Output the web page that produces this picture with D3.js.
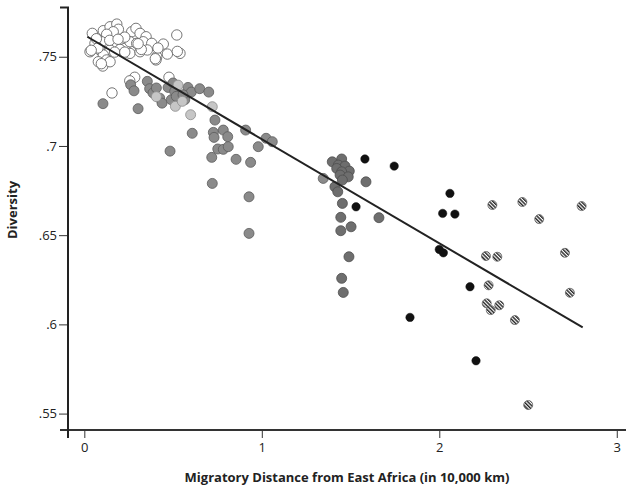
<!DOCTYPE html>
<html lang="en">
<head>
    <meta charset="UTF-8">
    <title>Diversity vs Migratory Distance</title>
    <style>
        body {
            margin: 0;
            background: #fff;
        }
        svg text {
            font-family: 'Open Sans', 'Noto Sans', sans-serif;
            fill: #222;
        }
        .tick text {
            font-size: 13px;
        }
        .axis-title {
            font-size: 13px;
            font-weight: bold;
        }
    </style>
</head>
<body>
    <svg id="chart" width="626" height="487"></svg>

    <script src="https://d3js.org/d3.v7.min.js"></script>
    <script>
        // ticks
        const xTicks = [0, 1, 2, 3];
        const yTicks = [0.55, 0.6, 0.65, 0.7, 0.75];
        const yTickLabels = ['.55', '.6', '.65', '.7', '.75'];

        // populations, [distance, diversity]
        const africa = [
            [0.045, 0.7631], [0.107, 0.7646], [0.145, 0.7668], [0.183, 0.7683], [0.192, 0.7654],
            [0.163, 0.7640], [0.126, 0.7626], [0.070, 0.7598], [0.098, 0.7584], [0.060, 0.7575],
            [0.163, 0.7575], [0.032, 0.7528], [0.088, 0.7538], [0.145, 0.7538], [0.107, 0.7510],
            [0.079, 0.7472], [0.126, 0.7482], [0.104, 0.7448], [0.145, 0.7472], [0.211, 0.7584],
            [0.229, 0.7547], [0.201, 0.7541], [0.267, 0.7640], [0.291, 0.7659], [0.314, 0.7631],
            [0.348, 0.7612], [0.257, 0.7584], [0.295, 0.7575], [0.332, 0.7584], [0.380, 0.7575],
            [0.257, 0.7519], [0.314, 0.7528], [0.355, 0.7538], [0.408, 0.7500], [0.404, 0.7482],
            [0.445, 0.7571], [0.468, 0.7515], [0.521, 0.7622], [0.539, 0.7519], [0.068, 0.7601],
            [0.143, 0.7592], [0.228, 0.7610], [0.190, 0.7598], [0.077, 0.7549], [0.039, 0.7536],
            [0.171, 0.7526], [0.228, 0.7526], [0.096, 0.7461], [0.415, 0.7549], [0.400, 0.7489],
            [0.524, 0.7530], [0.321, 0.7541], [0.303, 0.7573],
            [0.284, 0.7385], [0.256, 0.7365], [0.156, 0.7297], [0.477, 0.7385]
        ];

        const middleEastEurope = [
            [0.105, 0.7237], [0.303, 0.7209], [0.261, 0.7343], [0.280, 0.7309], [0.355, 0.7362],
            [0.368, 0.7321], [0.387, 0.7297], [0.406, 0.7325], [0.425, 0.7268], [0.438, 0.7240],
            [0.472, 0.7328], [0.500, 0.7353], [0.509, 0.7306], [0.490, 0.7259], [0.537, 0.7268],
            [0.518, 0.7278], [0.584, 0.7328], [0.603, 0.7302], [0.650, 0.7321], [0.701, 0.7302],
            [0.736, 0.7145], [0.608, 0.7071], [0.727, 0.7076], [0.731, 0.7048], [0.783, 0.7089],
            [0.808, 0.7052], [0.752, 0.6983], [0.783, 0.6981], [0.811, 0.6996], [0.718, 0.6936],
            [0.855, 0.6925], [0.937, 0.6908], [0.909, 0.7089], [0.980, 0.6996], [1.024, 0.7043],
            [1.059, 0.7024], [0.483, 0.6971], [0.721, 0.6790], [0.928, 0.6715], [0.928, 0.6510],
            [0.566, 0.7259], [0.556, 0.7287], [1.346, 0.6818]
        ];

        const europeLight = [
            [0.406, 0.7276], [0.513, 0.7222], [0.552, 0.7250], [0.599, 0.7175], [0.721, 0.7220],
            [0.528, 0.7341]
        ];

        const asia = [
            [1.397, 0.6911], [1.450, 0.6927], [1.431, 0.6893], [1.469, 0.6887], [1.422, 0.6874],
            [1.493, 0.6859], [1.450, 0.6855], [1.441, 0.6837], [1.487, 0.6827], [1.454, 0.6809],
            [1.412, 0.6771], [1.428, 0.6743], [1.454, 0.6678], [1.445, 0.6600], [1.445, 0.6525],
            [1.503, 0.6547], [1.660, 0.6598], [1.491, 0.6379], [1.450, 0.6258], [1.459, 0.6179],
            [1.587, 0.6799]
        ];

        const oceania = [
            [1.581, 0.6927], [1.746, 0.6887], [1.531, 0.6659], [2.060, 0.6734], [2.019, 0.6622],
            [2.088, 0.6618], [2.000, 0.6420], [2.023, 0.6401], [2.173, 0.6211], [1.835, 0.6039],
            [2.207, 0.5796]
        ];

        const americas = [
            [2.299, 0.6669], [2.468, 0.6686], [2.802, 0.6663], [2.563, 0.6590], [2.263, 0.6383],
            [2.327, 0.6379], [2.708, 0.6401], [2.278, 0.6219], [2.736, 0.6177], [2.267, 0.6118],
            [2.338, 0.6107], [2.290, 0.6080], [2.426, 0.6024], [2.501, 0.5548]
        ];

        // fitted line, end points
        const fitLine = [[0.017, 0.7612], [2.808, 0.5983]];

        const svg = d3.select('#chart');

        const x = d3.scaleLinear().domain([-0.137, 3.052]).range([60, 626]);
        const y = d3.scaleLinear().domain([0.5408, 0.7776]).range([430, 7.5]);
        const axisX = 68;

        // hatch for the Americas
        const defs = svg.append('defs');
        const pat = defs.append('pattern')
            .attr('id', 'hatch')
            .attr('patternUnits', 'userSpaceOnUse')
            .attr('width', 2.6)
            .attr('height', 2.6)
            .attr('patternTransform', 'rotate(-45)');
        pat.append('rect').attr('width', 2.6).attr('height', 2.6).attr('fill', '#fff');
        pat.append('rect').attr('width', 1.4).attr('height', 2.6).attr('fill', '#222');

        // axes
        const gx = svg.append('g')
            .attr('transform', `translate(0,${y.range()[0]})`)
            .call(d3.axisBottom(x).tickValues(xTicks).tickFormat(d3.format('d'))
                .tickSize(8).tickSizeOuter(0).tickPadding(5));
        gx.select('.domain').remove();

        const gy = svg.append('g')
            .attr('transform', `translate(${axisX},0)`)
            .call(d3.axisLeft(y).tickValues(yTicks).tickFormat((d, i) => yTickLabels[i])
                .tickSize(9).tickSizeOuter(0).tickPadding(2));
        gy.select('.domain').remove();

        svg.selectAll('.tick line').attr('stroke', '#333').attr('stroke-width', 1);

        // axis lines
        svg.append('line')
            .attr('x1', x.range()[0]).attr('x2', x.range()[1])
            .attr('y1', y.range()[0]).attr('y2', y.range()[0])
            .attr('stroke', '#333').attr('stroke-width', 2);
        svg.append('path')
            .attr('d', `M${axisX - 8},${y.range()[1]}H${axisX}V${y.range()[0] + 8}`)
            .attr('fill', 'none')
            .attr('stroke', '#222').attr('stroke-width', 2);

        // points
        function drawGroup(data, r, fill, stroke, sw) {
            svg.append('g').selectAll('circle')
                .data(data)
                .join('circle')
                .attr('cx', d => x(d[0]))
                .attr('cy', d => y(d[1]))
                .attr('r', r)
                .attr('fill', fill)
                .attr('stroke', stroke)
                .attr('stroke-width', sw);
        }

        drawGroup(africa, 5.2, '#fff', '#666', 0.9);
        drawGroup(middleEastEurope, 5, '#8a8a8a', '#5c5c5c', 0.8);
        drawGroup(europeLight, 5, '#c6c6c6', '#8c8c8c', 0.8);
        drawGroup(asia, 5, '#6e6e6e', '#4e4e4e', 0.8);
        drawGroup(oceania, 4.2, '#111', '#111', 0.5);
        drawGroup(americas, 4.5, 'url(#hatch)', '#555', 0.7);

        // regression line
        svg.append('path')
            .datum(fitLine)
            .attr('d', d3.line().x(d => x(d[0])).y(d => y(d[1])))
            .attr('stroke', '#222')
            .attr('stroke-width', 2)
            .attr('fill', 'none');

        // titles
        svg.append('text')
            .attr('class', 'axis-title')
            .attr('x', 347)
            .attr('y', 482)
            .attr('text-anchor', 'middle')
            .text('Migratory Distance from East Africa (in 10,000 km)');

        svg.append('text')
            .attr('class', 'axis-title')
            .attr('transform', 'translate(17,210) rotate(-90)')
            .attr('text-anchor', 'middle')
            .text('Diversity');
    </script>
</body>
</html>
